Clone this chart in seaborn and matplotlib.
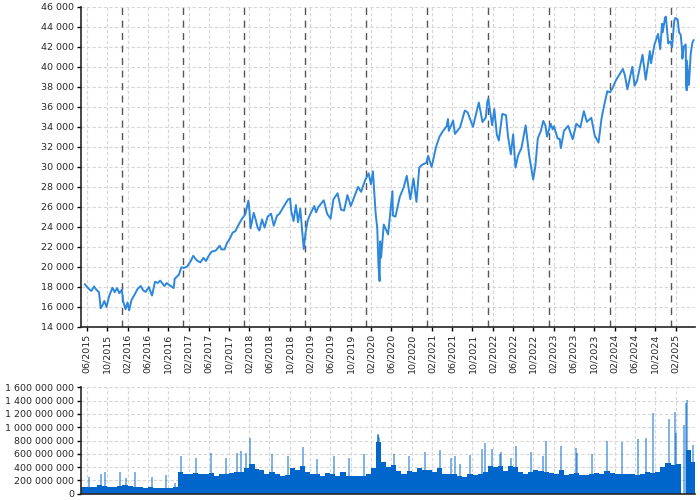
import pandas as pd
import matplotlib
matplotlib.use("Agg")
import matplotlib.pyplot as plt
import matplotlib.dates as mdates
from matplotlib.ticker import FuncFormatter, MultipleLocator
import seaborn as sns

# -------------------- DATA --------------------
price_dates = [
    "2015-05-20", "2015-06-01", "2015-06-15", "2015-06-29", "2015-07-15", "2015-07-31", "2015-08-14",
    "2015-08-24", "2015-09-01", "2015-09-15", "2015-09-28", "2015-10-15", "2015-11-03", "2015-11-16",
    "2015-12-01", "2015-12-14", "2015-12-29",
    "2016-01-07", "2016-01-20", "2016-02-01", "2016-02-11", "2016-02-25", "2016-03-15", "2016-04-01",
    "2016-04-20", "2016-05-05", "2016-05-20", "2016-06-08", "2016-06-27", "2016-07-15", "2016-08-01",
    "2016-08-15", "2016-09-09", "2016-09-22", "2016-10-14", "2016-11-04", "2016-11-10", "2016-11-22",
    "2016-12-05", "2016-12-20",
    "2017-01-05", "2017-01-25", "2017-02-15", "2017-03-01", "2017-03-22", "2017-04-13", "2017-05-01",
    "2017-05-17", "2017-06-01", "2017-06-19", "2017-07-14", "2017-08-07", "2017-08-17", "2017-09-05",
    "2017-09-20", "2017-10-05", "2017-10-24", "2017-11-08", "2017-11-30", "2017-12-18",
    "2018-01-08", "2018-01-26", "2018-02-02", "2018-02-08", "2018-02-27", "2018-03-08", "2018-03-22",
    "2018-04-02", "2018-04-18", "2018-05-03", "2018-05-21", "2018-06-11", "2018-06-27", "2018-07-17",
    "2018-08-01", "2018-08-29", "2018-09-21", "2018-10-03", "2018-10-10", "2018-10-24", "2018-11-07",
    "2018-11-20", "2018-12-03", "2018-12-24",
    "2019-01-04", "2019-01-18", "2019-02-05", "2019-02-25", "2019-03-08", "2019-03-21", "2019-04-23",
    "2019-05-13", "2019-06-03", "2019-06-20", "2019-07-15", "2019-08-05", "2019-08-23", "2019-09-12",
    "2019-10-02", "2019-10-18", "2019-11-15", "2019-12-03", "2019-12-27",
    "2020-01-17", "2020-01-31", "2020-02-12", "2020-02-28", "2020-03-09", "2020-03-16", "2020-03-23",
    "2020-03-26", "2020-04-01", "2020-04-17", "2020-05-13", "2020-06-08", "2020-06-11", "2020-06-26",
    "2020-07-22", "2020-08-14", "2020-09-02", "2020-09-23", "2020-10-12", "2020-10-30", "2020-11-16",
    "2020-12-04", "2020-12-28",
    "2021-01-08", "2021-01-29", "2021-02-24", "2021-03-17", "2021-04-05", "2021-04-29", "2021-05-07",
    "2021-05-12", "2021-06-07", "2021-06-18", "2021-07-19", "2021-08-16", "2021-09-02", "2021-10-04",
    "2021-11-08", "2021-11-30", "2021-12-20", "2021-12-29",
    "2022-01-04", "2022-01-27", "2022-02-09", "2022-02-24", "2022-03-08", "2022-03-29", "2022-04-20",
    "2022-05-02", "2022-05-19", "2022-06-02", "2022-06-16", "2022-07-01", "2022-07-22", "2022-08-16",
    "2022-09-06", "2022-09-30", "2022-10-13", "2022-10-28", "2022-11-15", "2022-11-30", "2022-12-13",
    "2022-12-22",
    "2023-01-13", "2023-01-25", "2023-02-02", "2023-02-24", "2023-03-08", "2023-03-15", "2023-04-03",
    "2023-04-28", "2023-05-25", "2023-06-16", "2023-07-10", "2023-07-31", "2023-08-18", "2023-09-14",
    "2023-10-04", "2023-10-27", "2023-11-14", "2023-12-01", "2023-12-19",
    "2024-01-04", "2024-01-19", "2024-02-09", "2024-03-21", "2024-04-02", "2024-04-17", "2024-05-17",
    "2024-05-30", "2024-06-14", "2024-07-17", "2024-08-05", "2024-08-30", "2024-09-06", "2024-09-26",
    "2024-10-18", "2024-10-31", "2024-11-11", "2024-11-15", "2024-11-29", "2024-12-04", "2024-12-18",
    "2024-12-31",
    "2025-01-10", "2025-01-23", "2025-01-30", "2025-02-13", "2025-02-21", "2025-03-03", "2025-03-10",
    "2025-03-13", "2025-03-21", "2025-04-02", "2025-04-04", "2025-04-08", "2025-04-09", "2025-04-21",
    "2025-05-02", "2025-05-12", "2025-05-20",
]
price_values = [
    18285, 18040, 17790, 17600, 18050, 17690, 17480,
    15870, 16060, 16600, 16000, 17140, 17920, 17480,
    17890, 17370, 17720,
    16510, 15770, 16450, 15660, 16700, 17250, 17790,
    18100, 17660, 17500, 18000, 17140, 18520, 18400,
    18640, 18090, 18390, 18140, 17890, 18800, 19020,
    19210, 19970,
    19900, 20070, 20610, 21110, 20660, 20450, 20910,
    20600, 21080, 21530, 21630, 22120, 21750, 21750,
    22410, 22770, 23440, 23560, 24270, 24790,
    25280, 26620, 25520, 23860, 25410, 24900, 23960,
    23640, 24750, 23930, 25010, 25320, 24120, 25120,
    25330, 26120, 26740, 26830, 25600, 24580, 26180,
    24470, 25830, 21790,
    23430, 24710, 25410, 26090, 25450, 25960, 26660,
    25320, 24820, 26750, 27360, 25720, 25630, 27180,
    26080, 26770, 28000, 27500, 28650,
    29350, 28260, 29550, 25410, 23850, 20190, 18590,
    22550, 20940, 24240, 23250, 27570, 25130, 25020,
    27000, 27930, 29100, 26760, 28840, 26500, 29950,
    30220, 30400,
    31100, 29980, 31960, 33010, 33530, 34060, 34780,
    33590, 34630, 33290, 33960, 35630, 35440, 33990,
    36430, 34480, 34930, 36490,
    36800, 34160, 35770, 33220, 32630, 35290, 35160,
    33060, 31250, 33250, 29930, 31100, 31900, 34150,
    31150, 28730, 30040, 32860, 33590, 34590, 34110,
    33030,
    34300, 33740, 34050, 32820, 32800, 31870, 33600,
    34100, 32760, 34300, 33940, 35560, 34500, 34900,
    33130, 32420, 34830, 36240, 37560,
    37440, 37860, 38670, 39780, 39170, 37750, 40000,
    38110, 38590, 41200, 38700, 41560, 40350, 42180,
    43280, 41760, 44290, 43440, 44910, 45010, 42330,
    42540,
    41940, 44570, 44880, 44710, 43430, 43190, 41910,
    40810, 41990, 42230, 38310, 37650, 40610, 38170,
    41320, 42410, 42680,
]

# monthly base volume (millions)
vol_months = pd.date_range("2015-05-01", "2025-05-01", freq="MS").strftime("%Y-%m").tolist()
vol_base = [
    100, 105, 100, 130, 110, 100, 100, 110,                           # 2015 May-Dec
    130, 120, 100, 95, 90, 105, 90, 80, 90, 80, 100, 330,              # 2016
    300, 300, 310, 290, 300, 310, 270, 290, 300, 310, 320, 330,        # 2017
    380, 450, 370, 350, 300, 320, 290, 260, 280, 380, 350, 420,        # 2018
    330, 300, 300, 260, 310, 290, 260, 320, 260, 270, 260, 260,        # 2019
    300, 380, 780, 480, 400, 430, 340, 300, 340, 320, 380, 350,        # 2020
    350, 330, 380, 290, 300, 290, 270, 250, 290, 280, 300, 330,        # 2021
    420, 400, 410, 340, 420, 400, 320, 300, 330, 360, 340, 330,        # 2022
    310, 300, 360, 280, 290, 310, 280, 280, 290, 310, 300, 340,        # 2023
    310, 300, 290, 300, 300, 280, 300, 330, 310, 320, 400, 460,        # 2024
    430, 440, 0, 650, 480,                                             # 2025 Jan-May
]

# single-day volume spikes (millions)
spike_dates = [
    "2015-06-17", "2015-08-24", "2015-09-18", "2015-12-18", "2016-01-21", "2016-03-18",
    "2016-06-24", "2016-09-16", "2016-11-09", "2016-12-16", "2017-03-17", "2017-06-16",
    "2017-09-15", "2017-11-17", "2017-12-15", "2018-01-12", "2018-02-02",
    "2018-06-15", "2018-09-21", "2018-12-21", "2019-03-15", "2019-06-21", "2019-09-20",
    "2019-12-20", "2020-03-12", "2020-03-16", "2020-03-20", "2020-06-19", "2020-09-18",
    "2020-12-18", "2021-03-19",
    "2021-05-28", "2021-06-18", "2021-07-19", "2021-09-17", "2021-11-30", "2021-12-17",
    "2022-01-24", "2022-03-18", "2022-03-21", "2022-05-19", "2022-06-17", "2022-09-16",
    "2022-12-01", "2022-12-16", "2023-03-17", "2023-06-16", "2023-06-20", "2023-09-15",
    "2023-12-15", "2024-03-15", "2024-06-21", "2024-08-05", "2024-09-20", "2024-12-20",
    "2025-01-27", "2025-02-03", "2025-03-21", "2025-04-04", "2025-04-07", "2025-05-16",
]
spike_vols = [
    250, 300, 330, 330, 230, 320,
    250, 280, 160, 560, 530, 610,
    530, 610, 640, 610, 840,
    600, 560, 700, 520, 560, 540,
    600, 900, 880, 850, 600, 560,
    620, 650,
    530, 570, 440, 580, 670, 760,
    670, 590, 620, 530, 710, 620,
    560, 790, 720, 690, 610, 590,
    790, 780, 830, 840, 1220, 1120,
    1230, 910, 1030, 1360, 1410, 730,
]
# ----------------------------------------------------------------------

df = pd.DataFrame({"date": pd.to_datetime(price_dates), "close": price_values})
vol = pd.DataFrame({"month": pd.to_datetime(vol_months), "volume": [v * 1e6 for v in vol_base]})
spk = pd.DataFrame({"date": pd.to_datetime(spike_dates), "volume": [v * 1e6 for v in spike_vols]})

sns.set_style("ticks")
plt.rcParams["font.family"] = ["DejaVu Sans"]

fig = plt.figure(figsize=(7, 5), dpi=100)
ax1 = fig.add_axes([0.1157, 0.346, 0.877, 0.6406])
ax2 = fig.add_axes([0.1157, 0.0126, 0.877, 0.2128])

grid_kw = dict(color="#d6d6d6", linestyle=(0, (3, 2)), linewidth=0.8)
xmin, xmax = pd.Timestamp("2015-04-28"), pd.Timestamp("2025-05-27")

# ---------------- PRICE ----------------
sns.lineplot(data=df, x="date", y="close", ax=ax1, color="#2d87dc", linewidth=1.4)
for yr in range(2016, 2026):
    ax1.axvline(pd.Timestamp(f"{yr}-01-01"), color="#555555", linestyle=(0, (5, 4)),
                linewidth=1.0, zorder=1)
ax1.set_ylim(14000, 46000)
ax1.yaxis.set_major_locator(MultipleLocator(2000))
ax1.yaxis.set_major_formatter(FuncFormatter(lambda v, p: f"{v:,.0f}".replace(",", " ")))

# ---------------- VOLUME ----------------
ax2.bar(vol["month"], vol["volume"], width=31, align="edge", color="#0066cc", linewidth=0)
ax2.vlines(spk["date"], 0, spk["volume"], color="#0066cc", alpha=0.5, linewidth=1.4)
ax2.set_ylim(0, 1.6e9)
ax2.yaxis.set_major_locator(MultipleLocator(2e8))
ax2.yaxis.set_major_formatter(FuncFormatter(lambda v, p: f"{v:,.0f}".replace(",", " ")))

for ax in (ax1, ax2):
    ax.set_xlim(xmin, xmax)
    ax.xaxis.set_major_locator(mdates.MonthLocator(bymonth=[2, 6, 10]))
    ax.xaxis.set_major_formatter(mdates.DateFormatter("%m/%Y"))
    ax.grid(True, **grid_kw)
    ax.set_axisbelow(True)
    ax.set_xlabel("")
    ax.set_ylabel("")
    sns.despine(ax=ax)
    ax.tick_params(labelsize=6.8, length=3, width=1, color="black", pad=2)
    ax.spines["left"].set_linewidth(1.2)
    ax.spines["bottom"].set_linewidth(1.2)

ax1.tick_params(axis="x", labelrotation=90)
ax2.tick_params(axis="x", labelbottom=False, length=0)

fig.savefig("out.png", dpi=100)
